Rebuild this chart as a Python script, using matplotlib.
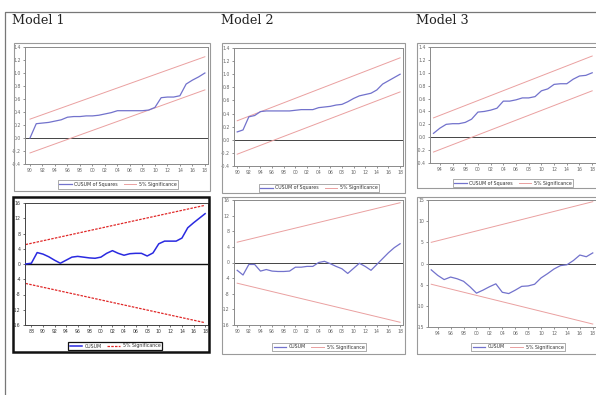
import matplotlib
matplotlib.use("Agg")
import matplotlib.pyplot as plt
from matplotlib.patches import Rectangle
from matplotlib.lines import Line2D

W, H = 596, 395

# ---------------- data ----------------
titles = ["Model 1", "Model 2", "Model 3"]

# CUSUM of Squares (top row)
sq1_years = list(range(1990, 2019))
sq1_vals = [0.00, 0.22, 0.23, 0.24, 0.26, 0.28, 0.32, 0.33, 0.33, 0.34, 0.34, 0.35,
            0.37, 0.39, 0.42, 0.42, 0.42, 0.42, 0.42, 0.43, 0.47, 0.62, 0.63, 0.63,
            0.65, 0.83, 0.89, 0.94, 1.00]
sq1_upper = [0.29, 1.25]
sq1_lower = [-0.23, 0.74]

sq2_years = list(range(1990, 2019))
sq2_vals = [0.12, 0.15, 0.35, 0.37, 0.43, 0.44, 0.44, 0.44, 0.44, 0.44, 0.45, 0.46,
            0.46, 0.46, 0.49, 0.50, 0.51, 0.53, 0.54, 0.58, 0.63, 0.67, 0.69, 0.71,
            0.76, 0.85, 0.90, 0.95, 1.00]
sq2_upper = [0.29, 1.25]
sq2_lower = [-0.22, 0.73]

sq3_years = list(range(1993, 2019))
sq3_vals = [0.06, 0.14, 0.20, 0.21, 0.21, 0.23, 0.28, 0.39, 0.40, 0.42, 0.45, 0.56,
            0.56, 0.58, 0.61, 0.61, 0.63, 0.72, 0.75, 0.82, 0.83, 0.83, 0.90, 0.95,
            0.96, 1.00]
sq3_upper = [0.30, 1.26]
sq3_lower = [-0.23, 0.72]

# CUSUM (bottom row)
cu1_years = list(range(1987, 2019))
cu1_vals = [0.0, 0.2, 3.0, 2.6, 1.9, 1.0, 0.2, 1.0, 1.8, 2.0, 1.8, 1.6, 1.5, 1.8,
            2.8, 3.5, 2.8, 2.3, 2.7, 2.8, 2.8, 2.1, 2.9, 5.3, 6.0, 6.0, 6.0, 6.8,
            9.5, 10.8, 12.0, 13.2]
cu1_upper = [5.1, 15.4]
cu1_lower = [-5.1, -15.4]

cu2_years = list(range(1990, 2019))
cu2_vals = [-2.0, -3.2, -0.5, -0.5, -2.2, -1.8, -2.2, -2.3, -2.3, -2.2, -1.2, -1.2,
            -1.0, -1.0, 0.0, 0.3, -0.3, -1.0, -1.6, -2.8, -1.5, -0.2, -1.0, -2.0,
            -0.5, 1.0, 2.5, 3.8, 4.8]
cu2_upper = [5.2, 15.3]
cu2_lower = [-5.3, -15.3]

cu3_years = list(range(1993, 2019))
cu3_vals = [-1.5, -2.8, -3.8, -3.2, -3.6, -4.2, -5.5, -7.0, -6.3, -5.5, -4.8, -6.8,
            -7.1, -6.3, -5.4, -5.3, -4.9, -3.4, -2.4, -1.3, -0.5, -0.3, 0.7, 2.0,
            1.6, 2.5]
cu3_upper = [5.0, 14.6]
cu3_lower = [-4.9, -14.3]

sq_ticks = [-0.4, -0.2, 0.0, 0.2, 0.4, 0.6, 0.8, 1.0, 1.2, 1.4]
cu16_ticks = [-16, -12, -8, -4, 0, 4, 8, 12, 16]
cu15_ticks = [-15, -10, -5, 0, 5, 10, 15]

sq_legend = ["CUSUM of Squares", "5% Significance"]
cu_legend = ["CUSUM", "5% Significance"]

# ---------------- figure ----------------
fig = plt.figure(figsize=(W / 100, H / 100), dpi=100)
fig.patch.set_facecolor("white")


def fx(x):
    return x / W


def fy(y):
    return 1 - y / H


def add_box(x0, y0, x1, y1, color="#9a9a9a", lw=0.8):
    fig.add_artist(Rectangle((fx(x0), fy(y1)), fx(x1) - fx(x0), fy(y0) - fy(y1),
                             transform=fig.transFigure, fill=False,
                             edgecolor=color, lw=lw))


# outer border
fig.add_artist(Line2D([fx(4.5), fx(4.5), fx(597)], [fy(400), fy(11.5), fy(11.5)],
                      transform=fig.transFigure, color="#777777", lw=0.9))

for i, (t, tx) in enumerate(zip(titles, [12, 221, 416])):
    fig.text(fx(tx), fy(21), t, fontsize=9.2, family="DejaVu Serif",
             va="center", ha="left", color="#222222")


def make_panel(box, frame, years, vals, upper, lower, ylim, yticks, yfmt,
               xlim, xticks, legend_labels, legend_xy, highlight=False):
    if highlight:
        add_box(*box, color="#111111", lw=1.8)
    else:
        add_box(*box)
    x0, y0, x1, y1 = frame
    ax = fig.add_axes([fx(x0), fy(y1), fx(x1) - fx(x0), fy(y0) - fy(y1)])
    spine_c = "#444444" if highlight else "#8a8a8a"
    for s in ax.spines.values():
        s.set_color(spine_c)
        s.set_linewidth(0.7)
    ax.axhline(0, color="#111111" if highlight else "#444444",
               lw=1.0 if highlight else 0.7, zorder=1)
    if highlight:
        cu_c, cu_lw = "#2a2ae0", 1.1
        sg_c, sg_lw, sg_ls = "#e02828", 0.9, (0, (2, 1))
    else:
        cu_c, cu_lw = "#7272cc", 0.9
        sg_c, sg_lw, sg_ls = "#eaa0a0", 0.7, "-"
    l1, = ax.plot(years, vals, color=cu_c, lw=cu_lw, zorder=3)
    ends = [years[0], years[-1]]
    l2, = ax.plot(ends, upper, color=sg_c, lw=sg_lw, ls=sg_ls, zorder=2)
    ax.plot(ends, lower, color=sg_c, lw=sg_lw, ls=sg_ls, zorder=2)
    ax.set_xlim(*xlim)
    ax.set_ylim(*ylim)
    ax.set_yticks(yticks)
    ax.set_yticklabels([yfmt(v) for v in yticks])
    ax.set_xticks(xticks)
    ax.set_xticklabels(["%02d" % (v % 100) for v in xticks])
    tc = "#666666" if not highlight else "#333333"
    ax.tick_params(axis="both", labelsize=3.3, length=1.5, width=0.5,
                   pad=1.5, colors=tc, labelcolor=tc)
    leg = ax.legend([l1, l2], legend_labels, loc="center",
                    bbox_to_anchor=(fx(legend_xy[0]), fy(legend_xy[1])),
                    bbox_transform=fig.transFigure, ncol=2, fontsize=3.4,
                    handlelength=2.6, columnspacing=1.2, handletextpad=0.6,
                    borderpad=0.35, fancybox=False, framealpha=1)
    leg.get_frame().set_edgecolor("#111111" if highlight else "#8a8a8a")
    leg.get_frame().set_linewidth(0.9 if highlight else 0.5)
    for txt in leg.get_texts():
        txt.set_color("#333333")
    return ax


sqfmt = lambda v: "%.1f" % v
intfmt = lambda v: "%d" % v

make_panel((14, 43, 210, 191), (25, 47, 208, 164), sq1_years, sq1_vals, sq1_upper,
           sq1_lower, (-0.4, 1.4), sq_ticks, sqfmt, (1989.2, 2018.5),
           list(range(1990, 2019, 2)), sq_legend, (118, 184.5))
make_panel((222, 43, 405, 193), (234, 48, 403, 166), sq2_years, sq2_vals, sq2_upper,
           sq2_lower, (-0.4, 1.4), sq_ticks, sqfmt, (1989.45, 2018.5),
           list(range(1990, 2019, 2)), sq_legend, (319, 188))
make_panel((417, 43, 603, 188), (430, 47, 596, 163), sq3_years, sq3_vals, sq3_upper,
           sq3_lower, (-0.4, 1.4), sq_ticks, sqfmt, (1992.45, 2018.6),
           list(range(1994, 2019, 2)), sq_legend, (513, 183))

make_panel((13, 197, 209, 352), (25, 203, 208, 325), cu1_years, cu1_vals, cu1_upper,
           cu1_lower, (-16, 16), cu16_ticks, intfmt, (1986.9, 2018.5),
           list(range(1988, 2019, 2)), cu_legend, (115, 346), highlight=True)
make_panel((222, 197, 405, 354), (234, 200, 403, 325), cu2_years, cu2_vals, cu2_upper,
           cu2_lower, (-16, 16), cu16_ticks, intfmt, (1989.45, 2018.5),
           list(range(1990, 2019, 2)), cu_legend, (319, 347))
make_panel((417, 197, 603, 354), (428, 200, 596, 327), cu3_years, cu3_vals, cu3_upper,
           cu3_lower, (-15, 15), cu15_ticks, intfmt, (1992.5, 2018.5),
           list(range(1994, 2019, 2)), cu_legend, (518, 347))

fig.savefig("out.png", dpi=100, facecolor="white")
